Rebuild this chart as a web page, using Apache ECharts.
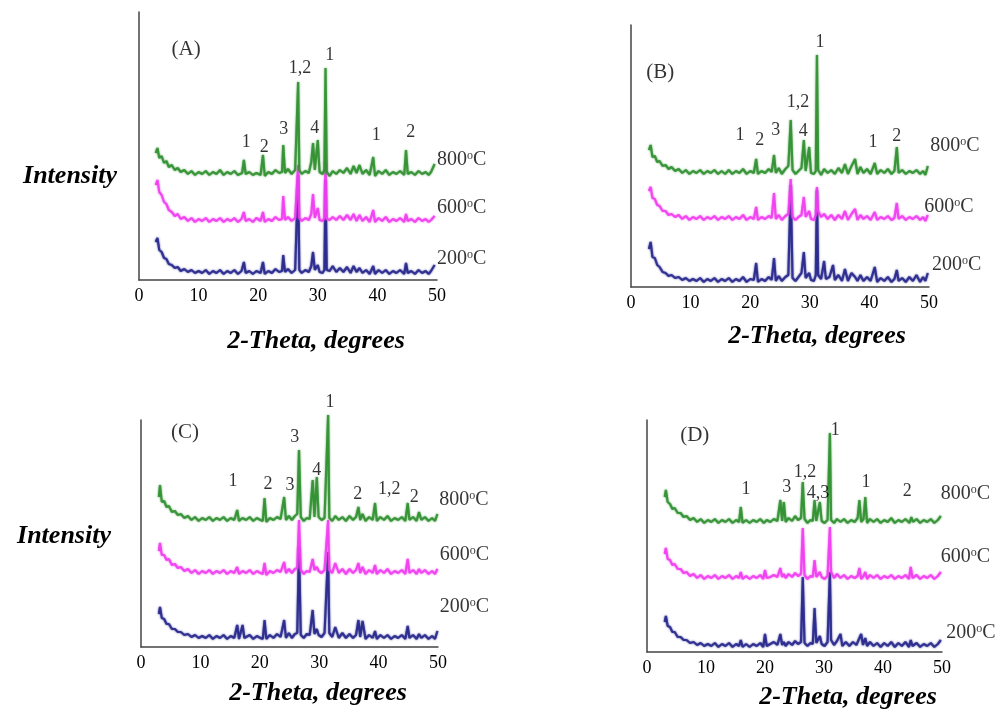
<!DOCTYPE html>
<html><head><meta charset="utf-8">
<script src="https://cdn.jsdelivr.net/npm/echarts@6/dist/echarts.min.js"></script>
<style>html,body{margin:0;padding:0;background:#fff}#c{width:1006px;height:720px}</style>
</head><body><div id="c"></div>
<script>
// ---- data: [2-theta (deg), intensity (arb. units)] ----
const A800=[[2.8,127],[3.1,132],[3.4,122],[3.8,124],[4.2,117],[4.6,119],[5.0,113],[5.5,115],[6.0,110],[6.5,112],[7.0,108],[7.6,110],[8.2,106],[8.8,109],[9.4,105],[10.0,108],[10.6,106],[11.2,109],[11.8,105],[12.4,108],[13.0,106],[13.6,110],[14.2,105],[14.8,108],[15.4,106],[16.0,109],[16.6,105],[17.3,107],[17.6,120],[17.9,106],[18.5,108],[19.1,105],[19.7,107],[20.4,105],[20.8,125],[21.1,104],[21.7,108],[22.3,106],[22.9,110],[23.5,107],[24.0,108],[24.2,135],[24.5,107],[25.0,111],[25.6,106],[26.2,110],[26.5,112],[26.7,198],[26.9,110],[27.3,106],[27.9,109],[28.5,107],[28.9,118],[29.2,137],[29.5,110],[29.8,112],[30.0,140],[30.3,108],[30.8,106],[31.1,110],[31.3,212],[31.5,108],[32.0,104],[32.5,109],[33.1,106],[33.7,110],[34.3,107],[34.9,112],[35.5,106],[36.0,114],[36.5,107],[37.0,115],[37.5,106],[38.1,110],[38.7,105],[39.3,123],[39.6,104],[40.2,109],[40.8,106],[41.4,110],[42.0,105],[42.6,108],[43.2,106],[43.8,109],[44.5,105],[44.8,130],[45.1,106],[45.7,108],[46.3,105],[46.9,109],[47.5,106],[48.1,108],[48.6,105],[49.0,108],[49.6,116]];
const A600=[[2.8,95],[3.1,100],[3.4,88],[3.8,85],[4.2,78],[4.6,76],[5.0,70],[5.5,68],[6.0,64],[6.5,66],[7.0,61],[7.6,63],[8.2,59],[8.8,62],[9.4,58],[10.0,61],[10.6,59],[11.2,62],[11.8,58],[12.4,61],[13.0,59],[13.6,62],[14.2,58],[14.8,61],[15.4,59],[16.0,62],[16.6,58],[17.2,61],[17.6,68],[17.9,59],[18.5,61],[19.1,58],[19.7,62],[20.4,59],[20.8,68],[21.1,58],[21.7,61],[22.3,59],[22.9,63],[23.5,60],[24.0,61],[24.2,84],[24.5,60],[25.0,63],[25.6,59],[26.2,62],[26.5,64],[26.7,115],[26.9,62],[27.3,59],[27.9,62],[28.5,60],[28.9,66],[29.2,86],[29.5,62],[29.8,64],[30.0,72],[30.3,60],[30.8,59],[31.1,62],[31.3,118],[31.5,61],[32.0,60],[32.5,63],[33.1,60],[33.7,64],[34.3,60],[34.9,65],[35.5,60],[36.0,66],[36.5,59],[37.0,65],[37.5,59],[38.1,63],[38.7,58],[39.3,70],[39.6,58],[40.2,62],[40.8,59],[41.4,63],[42.0,58],[42.6,61],[43.2,59],[43.8,62],[44.5,58],[44.8,66],[45.1,59],[45.7,61],[46.3,58],[46.9,62],[47.5,59],[48.1,61],[48.6,58],[49.0,60],[49.6,64]];
const A200=[[2.8,38],[3.1,42],[3.4,30],[3.8,28],[4.2,22],[4.6,21],[5.0,16],[5.5,15],[6.0,12],[6.5,13],[7.0,9],[7.6,11],[8.2,8],[8.8,10],[9.4,7],[10.0,9],[10.6,7],[11.2,10],[11.8,6],[12.4,9],[13.0,7],[13.6,10],[14.2,6],[14.8,9],[15.4,7],[16.0,10],[16.6,6],[17.2,9],[17.6,18],[17.9,7],[18.5,9],[19.1,6],[19.7,9],[20.4,7],[20.8,18],[21.1,6],[21.7,9],[22.3,7],[22.9,11],[23.5,8],[24.0,9],[24.2,25],[24.5,8],[25.0,11],[25.6,7],[26.2,10],[26.5,12],[26.7,105],[26.9,10],[27.3,7],[27.9,10],[28.5,8],[28.9,14],[29.2,28],[29.5,10],[29.8,12],[30.0,15],[30.3,8],[30.8,7],[31.1,10],[31.3,100],[31.5,10],[32.0,9],[32.5,14],[33.1,8],[33.7,12],[34.3,8],[34.9,13],[35.5,7],[36.0,14],[36.5,8],[37.0,12],[37.5,7],[38.1,10],[38.7,6],[39.3,14],[39.6,6],[40.2,10],[40.8,7],[41.4,10],[42.0,6],[42.6,9],[43.2,7],[43.8,10],[44.5,6],[44.8,17],[45.1,7],[45.7,9],[46.3,6],[46.9,10],[47.5,7],[48.1,9],[48.6,6],[49.0,9],[49.6,15]];

const B800=[[3.0,137],[3.3,142],[3.6,130],[4.0,131],[4.4,125],[4.8,126],[5.3,121],[5.8,122],[6.3,118],[6.8,120],[7.4,116],[8.0,118],[8.6,114],[9.2,117],[9.8,113],[10.4,116],[11.0,114],[11.6,117],[12.2,113],[12.8,116],[13.4,114],[14.0,117],[14.6,113],[15.2,116],[15.8,113],[16.4,117],[17.0,113],[17.6,116],[18.2,114],[18.8,118],[19.4,113],[20.0,116],[20.6,114],[21.0,128],[21.3,113],[21.9,116],[22.5,114],[23.1,118],[23.6,115],[24.0,132],[24.3,114],[24.8,119],[25.3,113],[25.9,118],[26.4,121],[26.8,167],[27.1,117],[27.6,113],[28.1,116],[28.6,119],[29.0,147],[29.3,116],[29.6,118],[29.9,140],[30.2,114],[30.7,113],[31.0,116],[31.2,232],[31.4,117],[31.9,112],[32.4,118],[33.0,114],[33.6,117],[34.2,113],[34.8,119],[35.4,114],[35.9,123],[36.4,113],[37.0,121],[37.6,128],[38.0,113],[38.5,120],[39.0,114],[39.6,118],[40.2,113],[40.9,124],[41.3,113],[41.9,117],[42.5,114],[43.1,118],[43.7,113],[44.2,116],[44.6,140],[44.9,114],[45.5,117],[46.1,113],[46.7,116],[47.3,114],[47.9,117],[48.5,113],[49.0,116],[49.4,112],[49.8,121]];
const B600=[[3.0,96],[3.3,100],[3.6,89],[4.0,88],[4.4,82],[4.8,81],[5.3,76],[5.8,76],[6.3,72],[6.8,73],[7.4,70],[8.0,72],[8.6,68],[9.2,71],[9.8,67],[10.4,70],[11.0,68],[11.6,71],[12.2,67],[12.8,70],[13.4,68],[14.0,71],[14.6,67],[15.2,70],[15.8,68],[16.4,71],[17.0,67],[17.6,70],[18.2,68],[18.8,72],[19.4,67],[20.0,70],[20.6,68],[21.0,80],[21.3,67],[21.9,70],[22.5,68],[23.1,71],[23.6,69],[24.0,94],[24.3,68],[24.8,72],[25.3,67],[25.9,71],[26.4,73],[26.8,108],[27.1,70],[27.6,67],[28.1,70],[28.6,72],[29.0,90],[29.3,70],[29.6,71],[29.9,76],[30.2,68],[30.7,67],[31.0,72],[31.2,100],[31.4,76],[31.9,70],[32.4,73],[33.0,68],[33.6,72],[34.2,67],[34.8,72],[35.4,68],[35.9,76],[36.4,67],[37.0,73],[37.6,78],[38.0,67],[38.5,72],[39.0,68],[39.6,71],[40.2,67],[40.9,75],[41.3,67],[41.9,70],[42.5,68],[43.1,71],[43.7,67],[44.2,69],[44.6,84],[44.9,68],[45.5,71],[46.1,67],[46.7,70],[47.3,68],[47.9,71],[48.5,67],[49.0,70],[49.4,66],[49.8,72]];
const B200=[[3.0,38],[3.3,45],[3.6,30],[4.0,29],[4.4,22],[4.8,20],[5.3,15],[5.8,14],[6.3,11],[6.8,12],[7.4,9],[8.0,10],[8.6,7],[9.2,9],[9.8,6],[10.4,8],[11.0,6],[11.6,9],[12.2,5],[12.8,8],[13.4,6],[14.0,9],[14.6,5],[15.2,8],[15.8,6],[16.4,9],[17.0,5],[17.6,8],[18.2,6],[18.8,10],[19.4,5],[20.0,8],[20.6,7],[21.0,24],[21.3,5],[21.9,8],[22.5,6],[23.1,10],[23.6,7],[24.0,29],[24.3,6],[24.8,11],[25.3,6],[25.9,10],[26.4,12],[26.8,102],[27.1,9],[27.6,6],[28.1,10],[28.6,14],[29.0,35],[29.3,9],[29.6,10],[29.9,14],[30.2,7],[30.7,6],[31.0,12],[31.2,97],[31.4,12],[31.9,8],[32.4,26],[32.7,8],[33.3,10],[33.9,22],[34.2,7],[34.8,12],[35.4,6],[35.9,18],[36.4,6],[37.0,14],[37.6,10],[38.0,6],[38.5,12],[39.0,6],[39.6,10],[40.2,6],[40.9,20],[41.3,5],[41.9,9],[42.5,6],[43.1,10],[43.7,5],[44.2,8],[44.6,17],[44.9,6],[45.5,9],[46.1,5],[46.7,10],[47.3,6],[47.9,12],[48.5,5],[49.0,10],[49.4,6],[49.8,14]];

const C800=[[3.0,150],[3.2,162],[3.5,145],[3.9,146],[4.3,140],[4.7,141],[5.2,135],[5.7,136],[6.2,132],[6.7,133],[7.3,129],[7.9,131],[8.5,127],[9.1,130],[9.7,126],[10.3,129],[10.9,127],[11.5,130],[12.1,126],[12.7,129],[13.3,127],[13.9,130],[14.5,126],[15.1,129],[15.7,127],[16.2,137],[16.5,126],[17.1,129],[17.7,127],[18.3,130],[18.9,126],[19.5,129],[20.1,127],[20.5,126],[20.8,149],[21.1,125],[21.7,129],[22.3,127],[22.9,130],[23.5,128],[24.1,150],[24.4,127],[24.9,131],[25.4,127],[25.9,131],[26.3,133],[26.6,197],[26.9,130],[27.4,126],[27.9,129],[28.4,128],[28.9,167],[29.2,130],[29.6,170],[29.9,130],[30.4,127],[30.9,129],[31.2,131],[31.5,232],[31.7,129],[32.2,126],[32.7,131],[33.3,127],[33.9,130],[34.5,126],[35.1,131],[35.7,127],[36.2,130],[36.6,140],[36.9,127],[37.3,133],[37.8,126],[38.4,130],[39.0,127],[39.4,144],[39.7,126],[40.3,130],[40.9,127],[41.5,131],[42.1,126],[42.7,129],[43.3,127],[43.9,130],[44.5,126],[44.9,144],[45.2,127],[45.8,130],[46.4,126],[46.8,135],[47.2,127],[47.8,130],[48.4,126],[49.0,129],[49.5,126],[49.9,133]];
const C600=[[3.0,96],[3.2,104],[3.5,92],[3.9,92],[4.3,87],[4.7,88],[5.2,82],[5.7,83],[6.2,79],[6.7,80],[7.3,76],[7.9,78],[8.5,74],[9.1,77],[9.7,73],[10.3,76],[10.9,74],[11.5,77],[12.1,73],[12.7,76],[13.3,74],[13.9,77],[14.5,73],[15.1,76],[15.7,74],[16.2,80],[16.5,73],[17.1,76],[17.7,74],[18.3,77],[18.9,73],[19.5,76],[20.1,74],[20.5,73],[20.8,84],[21.1,72],[21.7,76],[22.3,74],[22.9,77],[23.5,75],[24.1,85],[24.4,74],[24.9,78],[25.4,74],[25.9,78],[26.3,79],[26.6,127],[26.9,77],[27.4,73],[27.9,76],[28.4,75],[28.9,88],[29.2,77],[29.6,80],[29.9,76],[30.4,74],[30.9,77],[31.2,79],[31.5,127],[31.7,77],[32.2,74],[32.7,84],[33.3,74],[33.9,78],[34.5,73],[35.1,78],[35.7,74],[36.2,77],[36.6,84],[36.9,74],[37.3,80],[37.8,73],[38.4,77],[39.0,74],[39.4,82],[39.7,73],[40.3,77],[40.9,74],[41.5,78],[42.1,73],[42.7,76],[43.3,74],[43.9,77],[44.5,73],[44.9,88],[45.2,74],[45.8,77],[46.4,73],[46.8,78],[47.2,74],[47.8,77],[48.4,73],[49.0,76],[49.5,73],[49.9,78]];
const C200=[[3.0,33],[3.2,40],[3.5,29],[3.9,28],[4.3,23],[4.7,23],[5.2,18],[5.7,18],[6.2,15],[6.7,15],[7.3,12],[7.9,13],[8.5,10],[9.1,12],[9.7,9],[10.3,11],[10.9,9],[11.5,12],[12.1,8],[12.7,11],[13.3,9],[13.9,12],[14.5,8],[15.1,11],[15.7,9],[16.2,22],[16.5,8],[17.1,22],[17.4,9],[17.7,10],[18.3,12],[18.9,8],[19.5,11],[20.1,9],[20.5,8],[20.8,27],[21.1,8],[21.7,12],[22.3,9],[22.9,13],[23.5,10],[24.1,27],[24.4,9],[24.9,14],[25.4,9],[25.9,13],[26.3,14],[26.6,100],[26.9,12],[27.4,9],[27.9,13],[28.4,12],[28.9,37],[29.2,13],[29.6,18],[29.9,12],[30.4,10],[30.9,14],[31.2,16],[31.5,95],[31.7,14],[32.2,10],[32.7,20],[33.3,9],[33.9,14],[34.5,9],[35.1,13],[35.7,9],[36.2,12],[36.6,27],[36.9,10],[37.3,26],[37.8,8],[38.4,12],[39.0,9],[39.4,16],[39.7,8],[40.3,12],[40.9,9],[41.5,12],[42.1,8],[42.7,11],[43.3,9],[43.9,12],[44.5,8],[44.9,21],[45.2,9],[45.8,12],[46.4,8],[46.8,13],[47.2,9],[47.8,12],[48.4,8],[49.0,11],[49.5,8],[49.9,16]];

const D800=[[3.0,155],[3.2,162],[3.5,150],[3.9,148],[4.3,143],[4.7,144],[5.2,139],[5.7,139],[6.2,135],[6.7,136],[7.3,132],[7.9,134],[8.5,130],[9.1,133],[9.7,129],[10.3,132],[10.9,130],[11.5,133],[12.1,129],[12.7,132],[13.3,130],[13.9,133],[14.5,129],[15.1,132],[15.6,130],[15.9,145],[16.2,129],[16.8,132],[17.4,129],[18.0,132],[18.6,130],[19.2,133],[19.8,129],[20.3,132],[20.9,130],[21.5,133],[22.1,131],[22.6,152],[22.9,131],[23.2,150],[23.5,130],[24.0,134],[24.6,131],[25.1,136],[25.6,132],[26.1,134],[26.4,170],[26.7,133],[27.2,129],[27.7,132],[28.1,131],[28.4,152],[28.7,131],[29.0,133],[29.3,150],[29.6,131],[30.1,129],[30.6,132],[30.8,134],[31.0,219],[31.2,132],[31.7,129],[32.2,133],[32.8,130],[33.4,133],[34.0,129],[34.6,132],[35.2,130],[35.7,134],[36.0,152],[36.3,130],[36.7,133],[37.0,155],[37.3,129],[37.8,133],[38.4,130],[39.0,133],[39.6,129],[40.2,132],[40.8,130],[41.4,134],[42.0,129],[42.6,132],[43.2,130],[43.8,133],[44.5,129],[44.8,135],[45.1,130],[45.7,133],[46.3,129],[46.9,132],[47.5,130],[48.1,133],[48.7,129],[49.3,132],[49.8,136]];
const D600=[[3.0,98],[3.2,104],[3.5,93],[3.9,92],[4.3,87],[4.7,88],[5.2,83],[5.7,83],[6.2,79],[6.7,80],[7.3,76],[7.9,78],[8.5,74],[9.1,77],[9.7,73],[10.3,76],[10.9,74],[11.5,77],[12.1,73],[12.7,76],[13.3,74],[13.9,77],[14.5,73],[15.1,76],[15.6,74],[15.9,80],[16.2,73],[16.8,76],[17.4,73],[18.0,76],[18.6,74],[19.2,77],[19.7,73],[20.0,82],[20.3,74],[20.9,75],[21.5,77],[22.1,75],[22.6,84],[22.9,75],[23.2,78],[23.5,74],[24.0,78],[24.6,75],[25.1,79],[25.6,76],[26.1,78],[26.4,124],[26.7,77],[27.2,73],[27.7,76],[28.1,75],[28.4,92],[28.7,75],[29.0,77],[29.3,80],[29.6,75],[30.1,73],[30.6,76],[30.8,78],[31.0,125],[31.2,80],[31.7,74],[32.2,78],[32.8,74],[33.4,77],[34.0,73],[34.6,76],[35.2,74],[35.7,76],[36.0,84],[36.3,73],[36.7,76],[37.0,80],[37.3,73],[37.8,77],[38.4,74],[39.0,77],[39.6,73],[40.2,76],[40.8,74],[41.4,77],[42.0,73],[42.6,76],[43.2,74],[43.8,77],[44.4,73],[44.7,85],[45.0,74],[45.7,77],[46.3,73],[46.9,76],[47.5,74],[48.1,77],[48.7,73],[49.3,76],[49.8,80]];
const D200=[[3.0,30],[3.2,36],[3.5,26],[3.9,25],[4.3,20],[4.7,20],[5.2,15],[5.7,15],[6.2,12],[6.7,12],[7.3,9],[7.9,10],[8.5,7],[9.1,9],[9.7,6],[10.3,8],[10.9,6],[11.5,9],[12.1,5],[12.7,8],[13.3,6],[13.9,9],[14.5,5],[15.1,8],[15.6,6],[15.9,12],[16.2,5],[16.8,8],[17.4,5],[18.0,8],[18.6,6],[19.2,9],[19.7,5],[20.0,18],[20.3,6],[20.9,8],[21.5,10],[22.1,7],[22.6,18],[22.9,7],[23.2,10],[23.5,6],[24.0,10],[24.6,7],[25.1,11],[25.6,8],[26.1,10],[26.4,75],[26.7,9],[27.2,6],[27.7,9],[28.1,8],[28.4,44],[28.7,9],[29.0,11],[29.3,16],[29.6,8],[30.1,6],[30.6,10],[30.8,12],[31.0,80],[31.2,12],[31.7,7],[32.2,11],[32.8,18],[33.1,6],[33.7,10],[34.3,6],[34.9,10],[35.5,7],[36.0,14],[36.3,18],[36.6,7],[37.0,14],[37.3,6],[37.8,10],[38.4,6],[39.0,9],[39.6,5],[40.2,9],[40.8,6],[41.4,10],[42.0,5],[42.6,9],[43.2,6],[43.8,10],[44.4,5],[44.7,12],[45.0,6],[45.7,9],[46.3,5],[46.9,8],[47.5,6],[48.1,9],[48.7,5],[49.3,8],[49.8,12]];

// peak annotations: [2-theta, intensity, text]
const labelsA=[[7.9,231,'(A)'],[27.0,212,'1,2'],[32.0,225,'1'],[24.3,151,'3'],[29.5,152,'4'],[18.0,138,'1'],[21.0,133,'2'],[39.8,145,'1'],[45.6,148,'2']];
const labelsB=[[4.9,215,'(B)'],[31.7,245,'1'],[28.0,185,'1,2'],[18.3,152,'1'],[21.6,147,'2'],[24.3,157,'3'],[28.9,156,'4'],[40.6,145,'1'],[44.6,151,'2']];
const labelsC=[[7.4,215,'(C)'],[31.8,245,'1'],[25.9,210,'3'],[15.5,166,'1'],[21.4,163,'2'],[25.1,162,'3'],[29.6,177,'4'],[36.5,153,'2'],[41.8,158,'1,2'],[46.0,150,'2']];
const labelsD=[[8.1,217,'(D)'],[31.9,222,'1'],[26.8,180,'1,2'],[23.7,165,'3'],[29.0,159,'4,3'],[37.1,170,'1'],[44.1,161,'2'],[16.8,163,'1']];
// temperature labels: [2-theta, intensity, temperature]
const tempsA=[[50.0,120,'800'],[50.0,72,'600'],[50.0,21,'200']];
const tempsB=[[50.2,141,'800'],[49.2,80,'600'],[50.5,22,'200']];
const tempsC=[[50.2,147,'800'],[50.3,92,'600'],[50.3,40,'200']];
const tempsD=[[49.8,158,'800'],[49.8,95,'600'],[50.7,19,'200']];
const xTicks=[0,10,20,30,40,50];

const GREEN='#2f8f2f', MAGENTA='#f03cf0', BLUE='#26268c';
const SERIF='"Liberation Serif", "Times New Roman", serif';

const grids=[
  {left:139,top:12,width:298,height:268},
  {left:631,top:25,width:298,height:262},
  {left:141,top:420,width:297,height:227},
  {left:647,top:420,width:295,height:232}
];
const panels=[
  {s:[A200,A600,A800],labels:labelsA,temps:tempsA},
  {s:[B200,B600,B800],labels:labelsB,temps:tempsB},
  {s:[C200,C600,C800],labels:labelsC,temps:tempsC},
  {s:[D200,D600,D800],labels:labelsD,temps:tempsD}
];
const colors=[BLUE,MAGENTA,GREEN];

const xAxis=[],yAxis=[],series=[];
grids.forEach((g,i)=>{
  xAxis.push({gridIndex:i,type:'value',min:xTicks[0],max:xTicks[xTicks.length-1],interval:10,
    axisLine:{show:true,lineStyle:{color:'#444',width:1.5}},axisTick:{show:false},splitLine:{show:false},
    axisLabel:{fontFamily:SERIF,fontSize:18,color:'#000',margin:7}});
  yAxis.push({gridIndex:i,type:'value',min:0,max:g.height,
    axisLine:{show:true,onZero:false,lineStyle:{color:'#444',width:1.5}},axisTick:{show:false},
    axisLabel:{show:false},splitLine:{show:false}});
  const p=panels[i];
  p.s.forEach((d,k)=>{
    series.push({type:'line',xAxisIndex:i,yAxisIndex:i,data:d,showSymbol:false,symbol:'none',
      clip:false,z:2+k,
      lineStyle:{color:colors[k],width:2.2,opacity:0.85,shadowColor:colors[k],shadowBlur:2}});
  });
  series.push({type:'scatter',xAxisIndex:i,yAxisIndex:i,symbolSize:0,clip:false,z:10,
    data:p.labels.map(l=>({value:[l[0],l[1]],label:{formatter:l[2],fontSize:l[2][0]==='('?21:18}})),
    label:{show:true,position:'inside',color:'#000',textBorderWidth:0,fontFamily:SERIF}});
  series.push({type:'scatter',xAxisIndex:i,yAxisIndex:i,symbolSize:0,clip:false,z:10,
    data:p.temps.map(l=>({value:[l[0],l[1]],label:{formatter:l[2]+'{s|o}C'}})),
    label:{show:true,position:'right',distance:0,color:'#000',fontFamily:SERIF,fontSize:20,
      rich:{s:{fontFamily:SERIF,fontSize:12,color:'#000',verticalAlign:'top',lineHeight:12}}}});
});

const titleFont='italic bold 26px '+SERIF;
const graphic=[
  {type:'text',x:70,y:176,style:{text:'Intensity',font:titleFont,fill:'#000',textAlign:'center',textVerticalAlign:'middle'}},
  {type:'text',x:64,y:536,style:{text:'Intensity',font:titleFont,fill:'#000',textAlign:'center',textVerticalAlign:'middle'}},
  {type:'text',x:316,y:341,style:{text:'2-Theta, degrees',font:titleFont,fill:'#000',textAlign:'center',textVerticalAlign:'middle'}},
  {type:'text',x:817,y:336,style:{text:'2-Theta, degrees',font:titleFont,fill:'#000',textAlign:'center',textVerticalAlign:'middle'}},
  {type:'text',x:318,y:693,style:{text:'2-Theta, degrees',font:titleFont,fill:'#000',textAlign:'center',textVerticalAlign:'middle'}},
  {type:'text',x:848,y:697,style:{text:'2-Theta, degrees',font:titleFont,fill:'#000',textAlign:'center',textVerticalAlign:'middle'}}
];

const chart=echarts.init(document.getElementById('c'),null,{renderer:'canvas'});
chart.setOption({animation:false,backgroundColor:'#fff',grid:grids,xAxis,yAxis,series,graphic});
</script></body></html>
